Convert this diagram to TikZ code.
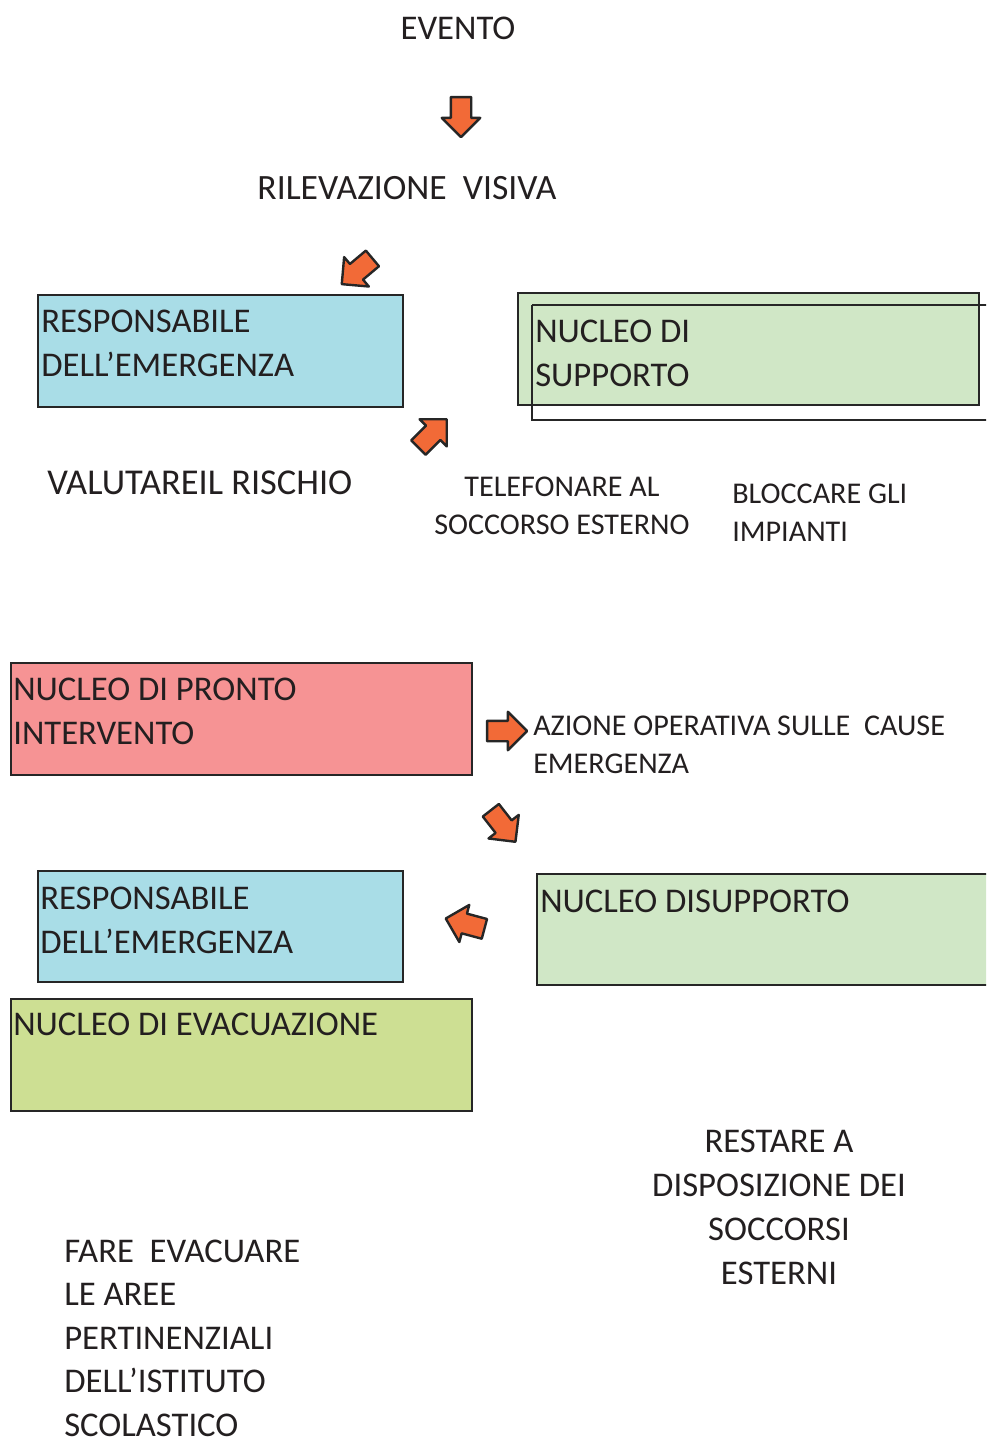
\documentclass[tikz,border=0pt]{standalone}
\usepackage{fontspec}
\setmainfont{Carlito}
\usepackage{tikz}
\usetikzlibrary{arrows,shapes,positioning}

\definecolor{txtgray}{HTML}{231F20}
\definecolor{lineg}{HTML}{262626}
\definecolor{arancio}{HTML}{F26A37}
\definecolor{azzurro}{HTML}{A9DDE7}
\definecolor{verdino}{HTML}{D0E7C6}
\definecolor{rosa}{HTML}{F69394}
\definecolor{verdeoliva}{HTML}{CDDF93}

\newcommand{\grande}{\fontsize{26}{33}\selectfont}
\newcommand{\piccolo}{\fontsize{22.6}{28.5}\selectfont}

\tikzset{
    box/.style={draw=lineg, line width=1.5pt, rectangle},
    boxtext/.style={anchor=base west, inner sep=0pt, align=left, text=txtgray, font=\grande},
    smalltext/.style={anchor=base west, inner sep=0pt, align=left, text=txtgray, font=\piccolo},
    freccia/.style={single arrow, draw=lineg, fill=arancio, line width=1.8pt,
        minimum height=30pt, minimum width=27pt, single arrow head extend=6.75pt,
        inner xsep=0pt, inner ysep=6.75pt, line join=round}
}

\begin{document}
\begin{tikzpicture}[x=0.75pt,y=-0.75pt]
    \useasboundingbox (0,0) rectangle (986,1443);
    \clip (0,0) rectangle (986,1443);

    % titolo e rilevazione
    \node[anchor=base, text=txtgray, font=\grande] (evento) at (458,39) {EVENTO};
    \node[freccia, rotate=-90] (f1) at (461,112) {};
    \node[anchor=base, text=txtgray, font=\fontsize{26.7}{33}\selectfont] (rilev) at (407,199) {RILEVAZIONE\ \ VISIVA};
    \node[freccia, rotate=220] (f2) at (361,268) {};

    % primo livello
    \draw[box, fill=azzurro] (38,295) rectangle (403,407);
    \node[boxtext] (resp1) at (41,376) {RESPONSABILE\\DELL’EMERGENZA};
    \draw[box, fill=verdino] (518,293) rectangle (979,405);
    \draw[box, line width=1.2pt] (532,305) -- (995,305) (532,305) -- (532,420) -- (995,420);
    \node[boxtext] (supp1) at (535,386) {NUCLEO DI\\SUPPORTO};
    \node[freccia, rotate=45] (f3) at (429,437) {};

    \node[boxtext, font=\fontsize{27.3}{33}\selectfont] (valuta) at (47,494) {VALUTAREIL RISCHIO};
    \node[anchor=base, align=center, text=txtgray, font=\piccolo] (telef) at (562,534) {TELEFONARE AL\\SOCCORSO ESTERNO};
    \node[smalltext] (blocca) at (732,541) {BLOCCARE GLI\\IMPIANTI};

    % pronto intervento
    \draw[box, fill=rosa] (11,663) rectangle (472,775);
    \node[boxtext] (pronto) at (13,744) {NUCLEO DI PRONTO\\INTERVENTO};
    \node[freccia, rotate=0] (f4) at (502,731) {};
    \node[smalltext] (azione) at (533,773) {AZIONE OPERATIVA SULLE\ \ CAUSE\\EMERGENZA};
    \node[freccia, rotate=-52] (f5) at (500,822) {};

    % secondo livello
    \draw[box, fill=azzurro] (38,871) rectangle (403,982);
    \node[boxtext] (resp2) at (40,953) {RESPONSABILE\\DELL’EMERGENZA};
    \node[freccia, rotate=165] (f6) at (470,925) {};
    \draw[box, fill=verdino] (537,874) rectangle (995,985);
    \node[boxtext] (supp2) at (540,912) {NUCLEO DISUPPORTO};
    \draw[box, fill=verdeoliva] (11,999) rectangle (472,1111);
    \node[boxtext] (evac) at (13,1035) {NUCLEO DI EVACUAZIONE};

    % azioni finali
    \node[anchor=base, align=center, text=txtgray, font=\grande] (restare) at (779,1284) {RESTARE A\\DISPOSIZIONE DEI\\SOCCORSI\\ESTERNI};
    \node[boxtext, font=\fontsize{26}{32.6}\selectfont] (fare) at (64,1436) {FARE\ \ EVACUARE\\LE AREE\\PERTINENZIALI\\DELL’ISTITUTO\\SCOLASTICO};
\end{tikzpicture}
\end{document}
